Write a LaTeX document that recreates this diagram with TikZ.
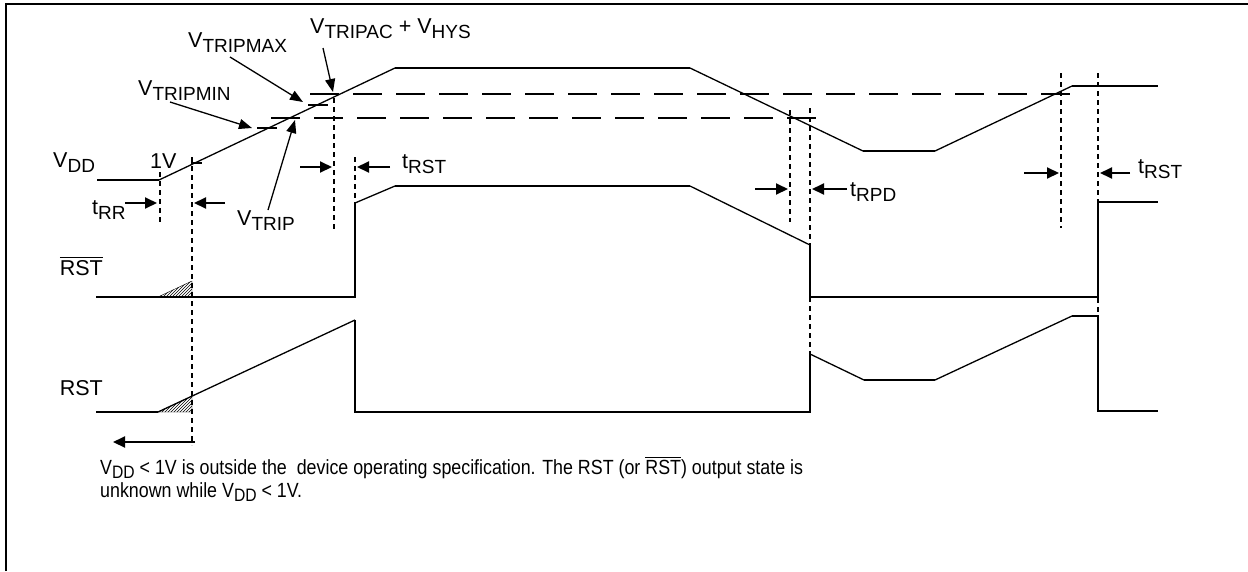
\documentclass[tikz,border=0pt]{standalone}
\usepackage{fontspec}
\setmainfont{Liberation Sans}
\newfontfamily\narrowfont[FakeStretch=0.87]{Liberation Sans}
\usetikzlibrary{arrows.meta,patterns}
\newcommand\sbs[1]{\raisebox{-5pt}{\fontsize{19}{20}\selectfont #1}}
\newcommand\nsbs[1]{\raisebox{-4.5pt}{\fontsize{18}{20}\selectfont #1}}
\newcommand\ovl[1]{\vbox{\hrule height 1.3pt\kern 1.8pt\hbox{#1}}}
\begin{document}
\begin{tikzpicture}[x=1pt,y=-1pt,
  sig/.style={line width=2pt, line join=miter},
  slant/.style={line width=1.3pt},
  dsh/.style={line width=2pt, dash pattern=on 29pt off 14pt},
  dotl/.style={line width=1.6pt, dash pattern=on 5pt off 4pt},
  tarr/.style={line width=2pt, -{Triangle[length=12pt,width=11pt]}},
  narr/.style={line width=1.3pt, -{Triangle[length=13pt,width=10pt]}},
  lbl/.style={font=\fontsize{21.5}{24}\selectfont, inner sep=0pt, anchor=base west},
  note/.style={font=\narrowfont\fontsize{20.5}{24}\selectfont, inner sep=0pt, anchor=base west},
]
\useasboundingbox (0,0) rectangle (1248,571);
% frame
\draw[line width=2pt] (6,571) -- (6,4) -- (1248,4);

% VDD waveform
\draw[sig] (97,180) -- (159,180);
\draw[slant] (159,180) -- (395,68);
\draw[sig] (395,68) -- (690,68);
\draw[slant] (690,68) -- (863,151);
\draw[sig] (863,151) -- (935,151);
\draw[slant] (935,151) -- (1072,86);
\draw[sig] (1072,86) -- (1158,86);

% thresholds
\draw[dsh] (310,94) -- (1075,94);
\draw[dsh] (271,118) -- (817,118);
\draw[sig] (308,105) -- (328,105);
\draw[sig] (257,128) -- (277,128);
\draw[sig] (191,163) -- (202,163);

% dotted verticals
\draw[dotl] (160,172) -- (160,222);
\draw[dotl] (192,157) -- (192,445);
\draw[dotl] (334,98) -- (334,230);
\draw[dotl] (355,157) -- (355,203);
\draw[dotl] (790,110) -- (790,222);
\draw[dotl] (810,108) -- (810,373);
\draw[dotl] (1061,73) -- (1061,228);
\draw[dotl] (1098,73) -- (1098,316);

% RST bar waveform
\draw[pattern=north east lines] (158,297) -- (192,297) -- (192,281) -- cycle;
\draw[sig] (96,297) -- (355,297) -- (355,203);
\draw[slant] (355,203) -- (395,186);
\draw[sig] (395,186) -- (690,186);
\draw[slant] (690,186) -- (810,245);
\draw[sig] (810,245) -- (810,297) -- (1098,297) -- (1098,202) -- (1158,202);

% RST waveform
\draw[pattern=north east lines] (158,412) -- (192,412) -- (192,396) -- cycle;
\draw[sig] (96,412) -- (158,412);
\draw[slant] (158,412) -- (355,320);
\draw[sig] (355,320) -- (355,412) -- (810,412) -- (810,354);
\draw[slant] (810,354) -- (864,380);
\draw[sig] (864,380) -- (935,380);
\draw[slant] (935,380) -- (1072,316);
\draw[sig] (1072,316) -- (1098,316) -- (1098,411) -- (1158,411);

% labels
\node[lbl] (vdd) at (53,167) {V\sbs{DD}};
\node[lbl] (trr) at (92,214) {t\sbs{RR}};
\node[lbl] (onev) at (150,168) {1V};
\node[lbl] (vtmin) at (138,95) {V\sbs{TRIPMIN}};
\node[lbl] (vtmax) at (188,47) {V\sbs{TRIPMAX}};
\node[lbl] (vtac) at (310,33) {V\sbs{TRIPAC} + V\sbs{HYS}};
\node[lbl] (vtrip) at (237,225) {V\sbs{TRIP}};
\node[lbl] (trst1) at (402,168) {t\sbs{RST}};
\node[lbl] (trpd) at (850,196) {t\sbs{RPD}};
\node[lbl] (trst2) at (1138,173) {t\sbs{RST}};
\node[lbl, anchor=base east] (rstb) at (103,275) {\ovl{RST}};
\node[lbl, anchor=base east] (rst) at (103,395) {RST};

% timing arrows
\coordinate (rrA) at (125,203); \coordinate (rrB) at (157,203);
\coordinate (rrC) at (225,203); \coordinate (rrD) at (194,203);
\draw[tarr] (rrA) -- (rrB);
\draw[tarr] (rrC) -- (rrD);
\coordinate (s1A) at (300,167); \coordinate (s1B) at (332,167);
\coordinate (s1C) at (390,167); \coordinate (s1D) at (357,167);
\draw[tarr] (s1A) -- (s1B);
\draw[tarr] (s1C) -- (s1D);
\coordinate (pdA) at (755,189); \coordinate (pdB) at (788,189);
\coordinate (pdC) at (847,189); \coordinate (pdD) at (812,189);
\draw[tarr] (pdA) -- (pdB);
\draw[tarr] (pdC) -- (pdD);
\coordinate (s2A) at (1024,173); \coordinate (s2B) at (1059,173);
\coordinate (s2C) at (1130,173); \coordinate (s2D) at (1100,173);
\draw[tarr] (s2A) -- (s2B);
\draw[tarr] (s2C) -- (s2D);
\coordinate (bA) at (195,442); \coordinate (bB) at (113,442);
\draw[tarr] (bA) -- (bB);

% annotation arrows
\coordinate (minS) at (170,102); \coordinate (minT) at (252,128);
\coordinate (maxS) at (230,57); \coordinate (maxT) at (303,102);
\coordinate (acS) at (323,48); \coordinate (acT) at (333,92);
\coordinate (trS) at (268,210); \coordinate (trT) at (295,120);
\draw[narr] (minS) -- (minT);
\draw[narr] (maxS) -- (maxT);
\draw[narr] (acS) -- (acT);
\draw[narr] (trS) -- (trT);

% note
\node[note] (n1) at (100,474) {V\nsbs{DD} < 1V is outside the\ \ device operating specification. The RST (or \ovl{RST}) output state is};
\node[note] (n2) at (100,497) {unknown while V\nsbs{DD} < 1V.};
\end{tikzpicture}
\end{document}
